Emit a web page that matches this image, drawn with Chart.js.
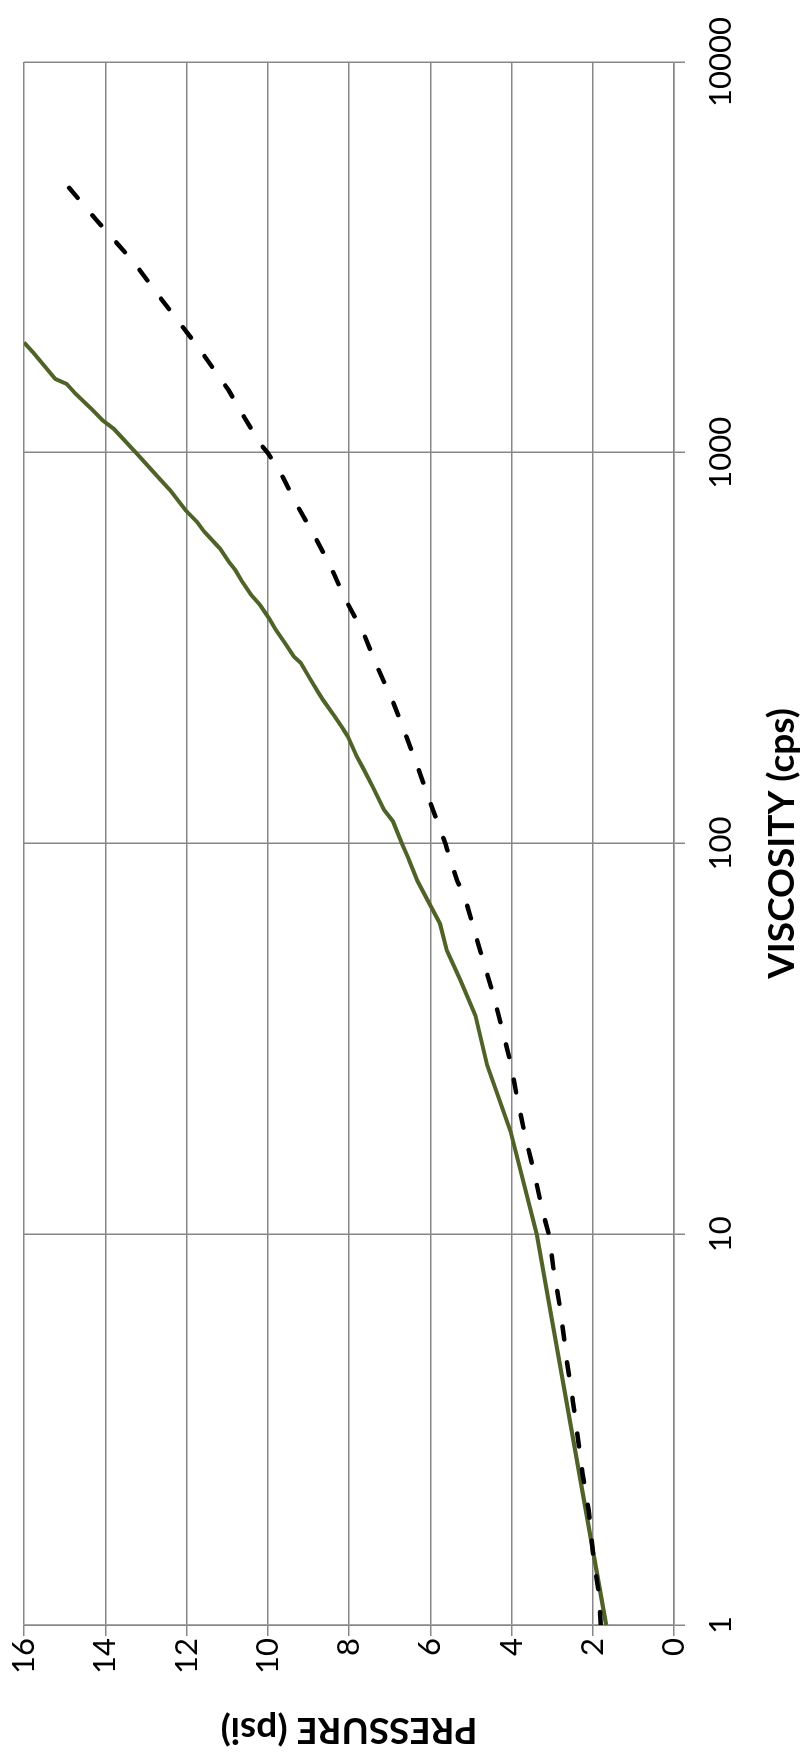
<!DOCTYPE html>
<html>
<head>
<meta charset="utf-8">
<script src="https://cdn.jsdelivr.net/npm/chart.js@4/dist/chart.umd.min.js"></script>
<style>
  html, body { margin: 0; padding: 0; background: #fff; overflow: hidden; }
  /* the chart is drawn landscape, then turned a quarter to the left */
  #wrap {
    position: absolute; left: 0; top: 0;
    width: 1756px; height: 804px;
    transform-origin: 0 0;
    transform: translateY(1756px) rotate(-90deg);
  }
</style>
</head>
<body>
<div id="wrap"><canvas id="chart" width="1756" height="804"></canvas></div>
<script>
// viscosity (cps) / pressure (psi)
const solidVisc = [1, 10, 18.3, 27.1, 36.3, 44.7, 53.2, 62.3, 80, 91.2, 100, 114, 122, 140, 155, 167,
    188, 196, 212, 233, 243, 265, 290, 301, 326, 352, 377, 408, 433, 468, 501, 526, 569, 629, 665,
    712, 801, 875, 984, 1151, 1209, 1295, 1415, 1500, 1545, 1807, 1915];
const solidPsi = [1.67, 3.38, 4.02, 4.60, 4.89, 5.26, 5.59, 5.76, 6.31, 6.53, 6.70, 6.92, 7.14, 7.42, 7.64, 7.81,
    8.03, 8.14, 8.36, 8.64, 8.75, 8.97, 9.19, 9.36, 9.58, 9.80, 9.97, 10.19, 10.41, 10.63, 10.80, 10.96, 11.18, 11.57, 11.74,
    12.02, 12.40, 12.74, 13.18, 13.79, 14.06, 14.34, 14.73, 14.95, 15.23, 15.78, 16.0];

const dashVisc = [1, 1.2, 1.52, 1.96, 2.44, 3.09, 3.75, 4.75, 6.36, 8.05, 10, 11.4, 14.2, 17.6, 22.0, 27.4,
    33.9, 42.5, 52.7, 72.8, 80.4, 100, 124, 152, 188, 231, 284, 345, 420, 516, 615, 741, 867, 1000,
    1055, 1234, 1443, 1880, 2473, 3066, 3954, 5000];
const dashPsi = [1.80, 1.85, 1.99, 2.10, 2.25, 2.38, 2.49, 2.64, 2.79, 2.96, 3.08, 3.23, 3.43, 3.65, 3.85, 4.02,
    4.24, 4.49, 4.76, 5.15, 5.34, 5.63, 5.96, 6.26, 6.59, 6.92, 7.31, 7.64, 8.08, 8.47, 8.86, 9.30, 9.63, 10.0,
    10.19, 10.58, 10.96, 11.74, 12.62, 13.29, 14.23, 15.06];

const viscTicks = [1, 10, 100, 1000, 10000];
const psiTicks = [0, 2, 4, 6, 8, 10, 12, 14, 16];

const gridColor = '#878787';

function pairs(xs, ys) {
    return xs.map((v, i) => ({ x: v, y: ys[i] }));
}

new Chart(document.getElementById('chart'), {
    type: 'line',
    data: {
        datasets: [{
            data: pairs(dashVisc, dashPsi),
            borderColor: '#000',
            borderWidth: 4.5,
            borderDash: [13, 23],
            borderCapStyle: 'round',
            pointRadius: 0,
            tension: 0
        }, {
            data: pairs(solidVisc, solidPsi),
            borderColor: '#4f6228',
            borderWidth: 4,
            pointRadius: 0,
            tension: 0
        }]
    },
    options: {
        responsive: false,
        animation: false,
        layout: { padding: { left: 0, right: 52, top: 24, bottom: 0 } },
        plugins: { legend: { display: false }, tooltip: { enabled: false } },
        scales: {
            x: {
                type: 'logarithmic',
                min: 1,
                max: 10000,
                afterBuildTicks: s => { s.ticks = viscTicks.map(v => ({ value: v })); },
                afterFit: s => { s.height = 130; },
                grid: { color: gridColor, lineWidth: 1.5, tickLength: 11 },
                border: { color: gridColor, width: 1.5 },
                ticks: {
                    callback: v => String(v),
                    maxRotation: 0,
                    autoSkip: false,
                    padding: 17,
                    color: '#000',
                    font: { family: 'Lato', size: 31 }
                },
                title: {
                    display: true,
                    text: 'VISCOSITY (cps)',
                    color: '#000',
                    padding: { top: 0, bottom: 0 },
                    font: { family: 'Lato', size: 37, weight: 'bold' }
                }
            },
            y: {
                min: 0,
                max: 16,
                afterBuildTicks: s => { s.ticks = psiTicks.map(v => ({ value: v })); },
                afterFit: s => { s.width = 131; },
                grid: { color: gridColor, lineWidth: 1.5, tickLength: 11 },
                border: { color: gridColor, width: 1.5 },
                ticks: {
                    padding: 2,
                    color: '#000',
                    font: { family: 'Lato', size: 31 }
                },
                title: {
                    display: true,
                    text: 'PRESSURE (psi)',
                    color: '#000',
                    padding: { top: 4, bottom: 0 },
                    font: { family: 'Lato', size: 37, weight: 'bold' }
                }
            }
        }
    }
});
</script>
</body>
</html>
